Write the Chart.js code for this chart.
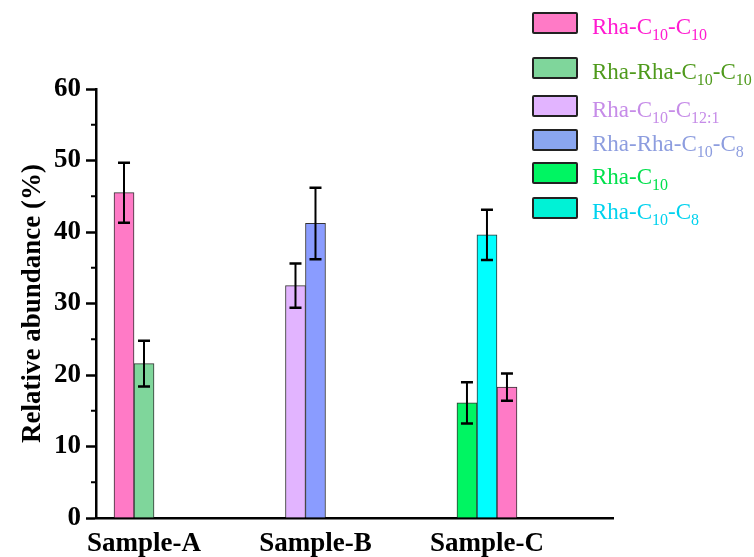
<!DOCTYPE html>
<html>
<head>
<meta charset="utf-8">
<script src="https://cdn.jsdelivr.net/npm/chart.js@4.4.1/dist/chart.umd.min.js"></script>
<style>
    html, body { margin: 0; padding: 0; background: #fff; }
    #wrap { position: relative; width: 754px; height: 557px; }
    #legend { position: absolute; left: 532px; top: 0; font-family: 'Liberation Serif', 'Times New Roman', serif; font-size: 23px; }
    .item { position: absolute; left: 0; display: flex; align-items: baseline; white-space: nowrap; }
    .box { box-sizing: border-box; width: 46px; height: 22px; border: 2px solid #222; border-radius: 2px; margin-right: 14px; }
    .item sub { font-size: 16px; vertical-align: -6px; line-height: 0; }
</style>
</head>
<body>
<div id="wrap">
    <canvas id="abundanceChart" width="754" height="557"></canvas>
    <div id="legend"></div>
</div>
<script>
const categories = ['Sample-A', 'Sample-B', 'Sample-C'];

const seriesNames = [
    'Rha-C_{10}-C_{10}',
    'Rha-Rha-C_{10}-C_{10}',
    'Rha-C_{10}-C_{12:1}',
    'Rha-Rha-C_{10}-C_{8}',
    'Rha-C_{10}',
    'Rha-C_{10}-C_{8}'
];

// mean relative abundance (%) per sample, null = not found
const rhaC10C10    = [45.5, null, 18.3];
const rhaRhaC10C10 = [21.6, null, null];
const rhaC10C121   = [null, 32.5, null];
const rhaRhaC10C8  = [null, 41.2, null];
const rhaC10       = [null, null, 16.1];
const rhaC10C8     = [null, null, 39.6];

// error bars (+/-)
const errC10C10    = [4.2, null, 1.9];
const errRhaC10C10 = [3.2, null, null];
const errC10C121   = [null, 3.1, null];
const errRhaC10C8  = [null, 5.0, null];
const errC10       = [null, null, 2.9];
const errC10C8     = [null, null, 3.5];

// which series sit in each sample group, left to right
const groupOrder = [[0, 1], [2, 3], [4, 5, 0]];

const yTicks = [0, 10, 20, 30, 40, 50, 60];

const barColors  = ['#ff7ac6', '#7fd69b', '#e2b4ff', '#8a9cff', '#00f562', '#00ffff'];
const boxColors  = ['#ff7ac6', '#7fd69b', '#e2b4ff', '#8aa6f0', '#00f562', '#00f2d6'];
const textColors = ['#ff1ad0', '#4f9a1c', '#c68ce8', '#8d9ddf', '#00e04c', '#00d2ee'];
const legendRowTop = [12, 57, 95, 129, 162, 197];

const FONT = "'Liberation Serif', 'Times New Roman', serif";

const seriesValues = [rhaC10C10, rhaRhaC10C10, rhaC10C121, rhaRhaC10C8, rhaC10, rhaC10C8];
const seriesErrors = [errC10C10, errRhaC10C10, errC10C121, errRhaC10C8, errC10, errC10C8];

// one dataset per slot inside a group, so bars keep their place like the original
const slotCount = Math.max(...groupOrder.map(g => g.length));
const datasets = [];
for (let s = 0; s < slotCount; s++) {
    const data = [], bg = [], errs = [];
    groupOrder.forEach((g, ci) => {
        const k = g[s];
        if (k === undefined) return;
        data.push({ x: ci + 1, y: seriesValues[k][ci] });
        bg.push(barColors[k]);
        errs.push(seriesErrors[k][ci]);
    });
    datasets.push({
        data: data,
        errors: errs,
        backgroundColor: bg,
        borderColor: '#333',
        borderWidth: 1,
        barThickness: 20
    });
}

const errorBars = {
    id: 'errorBars',
    afterDatasetsDraw(chart) {
        const { ctx, scales: { y } } = chart;
        ctx.save();
        ctx.strokeStyle = '#000';
        chart.data.datasets.forEach((ds, di) => {
            chart.getDatasetMeta(di).data.forEach((bar, i) => {
                const v = ds.data[i].y, e = ds.errors[i];
                const top = y.getPixelForValue(v + e);
                const bot = y.getPixelForValue(v - e);
                ctx.lineWidth = 2;
                ctx.beginPath();
                ctx.moveTo(bar.x, top); ctx.lineTo(bar.x, bot);
                ctx.stroke();
                ctx.lineWidth = 2.5;
                ctx.beginPath();
                ctx.moveTo(bar.x - 6, top); ctx.lineTo(bar.x + 6, top);
                ctx.moveTo(bar.x - 6, bot); ctx.lineTo(bar.x + 6, bot);
                ctx.stroke();
            });
        });
        ctx.restore();
    }
};

// small ticks half way between the labelled ones
const minorTicks = {
    id: 'minorTicks',
    afterDraw(chart) {
        const { ctx, scales: { y } } = chart;
        ctx.save();
        ctx.strokeStyle = '#000';
        ctx.lineWidth = 2;
        for (let i = 0; i < yTicks.length - 1; i++) {
            const py = y.getPixelForValue((yTicks[i] + yTicks[i + 1]) / 2);
            ctx.beginPath();
            ctx.moveTo(y.right - 5, py);
            ctx.lineTo(y.right, py);
            ctx.stroke();
        }
        ctx.restore();
    }
};

new Chart(document.getElementById('abundanceChart'), {
    type: 'bar',
    data: { datasets: datasets },
    options: {
        responsive: false,
        animation: false,
        layout: { padding: { top: 89, right: 141, bottom: 0, left: 0 } },
        plugins: {
            legend: { display: false },
            tooltip: { enabled: false }
        },
        scales: {
            x: {
                type: 'linear',
                offset: false,
                min: 0.72,
                max: 3.735,
                afterBuildTicks: s => { s.ticks = categories.map((c, i) => ({ value: i + 1 })); },
                afterFit: s => { s.height = 39; },
                ticks: {
                    callback: v => categories[v - 1],
                    autoSkip: false,
                    maxRotation: 0,
                    padding: 2,
                    color: '#000',
                    font: { family: FONT, size: 27, weight: 'bold' }
                },
                grid: { display: false },
                border: { display: true, color: '#000', width: 2.5 }
            },
            y: {
                min: 0,
                max: 60,
                afterBuildTicks: s => { s.ticks = yTicks.map(v => ({ value: v })); },
                afterFit: s => { s.width = 96; },
                ticks: {
                    padding: 5,
                    color: '#000',
                    font: { family: FONT, size: 27, weight: 'bold' }
                },
                grid: { drawOnChartArea: false, tickLength: 10, tickWidth: 2.5, tickColor: '#000' },
                border: { color: '#000', width: 2.5 },
                title: {
                    display: true,
                    text: 'Relative abundance (%)',
                    color: '#000',
                    padding: { top: 17, bottom: 0 },
                    font: { family: FONT, size: 27, weight: 'bold' }
                }
            }
        }
    },
    plugins: [errorBars, minorTicks]
});

// legend with subscripts
const legendEl = document.getElementById('legend');
seriesNames.forEach((name, i) => {
    const item = document.createElement('div');
    item.className = 'item';
    item.style.top = legendRowTop[i] + 'px';
    const box = document.createElement('span');
    box.className = 'box';
    box.style.background = boxColors[i];
    const label = document.createElement('span');
    label.style.color = textColors[i];
    label.innerHTML = name.replace(/_\{([^}]*)\}/g, '<sub>$1</sub>');
    item.appendChild(box);
    item.appendChild(label);
    legendEl.appendChild(item);
});
</script>
</body>
</html>
